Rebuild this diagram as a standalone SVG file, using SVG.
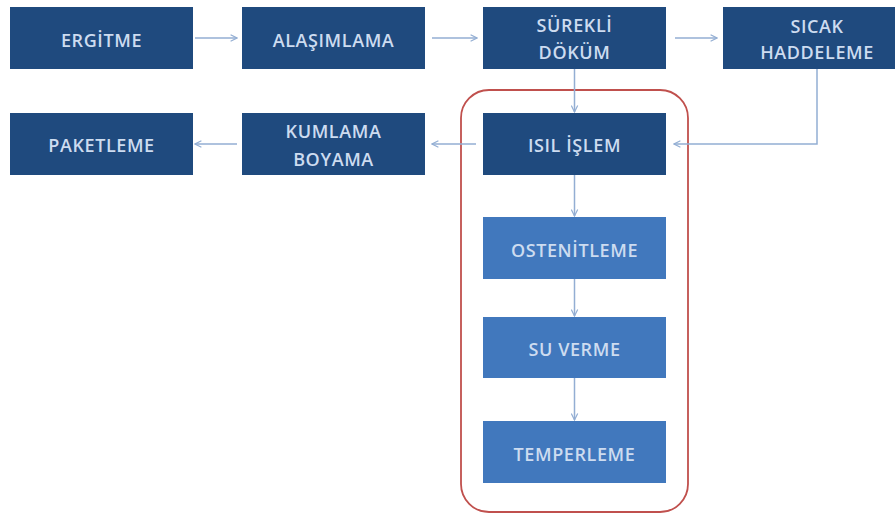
<svg xmlns="http://www.w3.org/2000/svg" width="895" height="514" viewBox="0 0 895 514">
<defs>
<style>
.d{fill:#1f4a7e}
.l{fill:#4178bd}
.t{font-family:"Open Sans","Liberation Sans",sans-serif;font-weight:600;font-size:18px;letter-spacing:0.6px;fill:#cddcf0;text-anchor:middle}
.c{fill:none;stroke:#93aed3;stroke-width:1.5}
</style>
<marker id="a" viewBox="0 0 10 10" refX="9" refY="5" markerWidth="8" markerHeight="8" markerUnits="userSpaceOnUse" orient="auto"><path d="M1,1 L9,5 L1,9" fill="none" stroke="#93aed3" stroke-width="1.5"/></marker>
</defs>
<rect width="895" height="514" fill="#fff"/>
<rect x="461" y="90" width="227" height="422" rx="28" fill="none" stroke="#c0504d" stroke-width="1.8"/>
<g id="connectors">
<path class="c" d="M195,38 H237" marker-end="url(#a)"/>
<path class="c" d="M432,38 H477" marker-end="url(#a)"/>
<path class="c" d="M675,38 H717" marker-end="url(#a)"/>
<path class="c" d="M574.5,69 V112" marker-end="url(#a)"/>
<path class="c" d="M817,69 V144 H674" marker-end="url(#a)"/>
<path class="c" d="M476,144 H432" marker-end="url(#a)"/>
<path class="c" d="M237,144 H195" marker-end="url(#a)"/>
<path class="c" d="M574.5,175 V216" marker-end="url(#a)"/>
<path class="c" d="M574.5,279 V316" marker-end="url(#a)"/>
<path class="c" d="M574.5,378 V420" marker-end="url(#a)"/>
</g>
<g id="ergitme"><rect class="d" x="10" y="7" width="183" height="62"/><text class="t" x="101.5" y="47">ERGİTME</text></g>
<g id="alasimlama"><rect class="d" x="242" y="7" width="183" height="62"/><text class="t" x="333.5" y="47">ALAŞIMLAMA</text></g>
<g id="surekli"><rect class="d" x="483" y="7" width="183" height="62"/><text class="t" x="574.5" y="32">SÜREKLİ</text><text class="t" x="574.5" y="59">DÖKÜM</text></g>
<g id="sicak"><rect class="d" x="723" y="7" width="172" height="62"/><text class="t" x="817" y="33">SICAK</text><text class="t" x="817" y="59">HADDELEME</text></g>
<g id="paketleme"><rect class="d" x="10" y="113" width="183" height="62"/><text class="t" x="101.5" y="152">PAKETLEME</text></g>
<g id="kumlama"><rect class="d" x="242" y="113" width="183" height="62"/><text class="t" x="333.5" y="138">KUMLAMA</text><text class="t" x="333.5" y="166">BOYAMA</text></g>
<g id="isil"><rect class="d" x="483" y="113" width="183" height="62"/><text class="t" x="574.5" y="152">ISIL İŞLEM</text></g>
<g id="ostenitleme"><rect class="l" x="483" y="217" width="183" height="62"/><text class="t" x="574.5" y="257">OSTENİTLEME</text></g>
<g id="suverme"><rect class="l" x="483" y="317" width="183" height="61"/><text class="t" x="574.5" y="356">SU VERME</text></g>
<g id="temperleme"><rect class="l" x="483" y="421" width="183" height="62"/><text class="t" x="574.5" y="461">TEMPERLEME</text></g>
</svg>
